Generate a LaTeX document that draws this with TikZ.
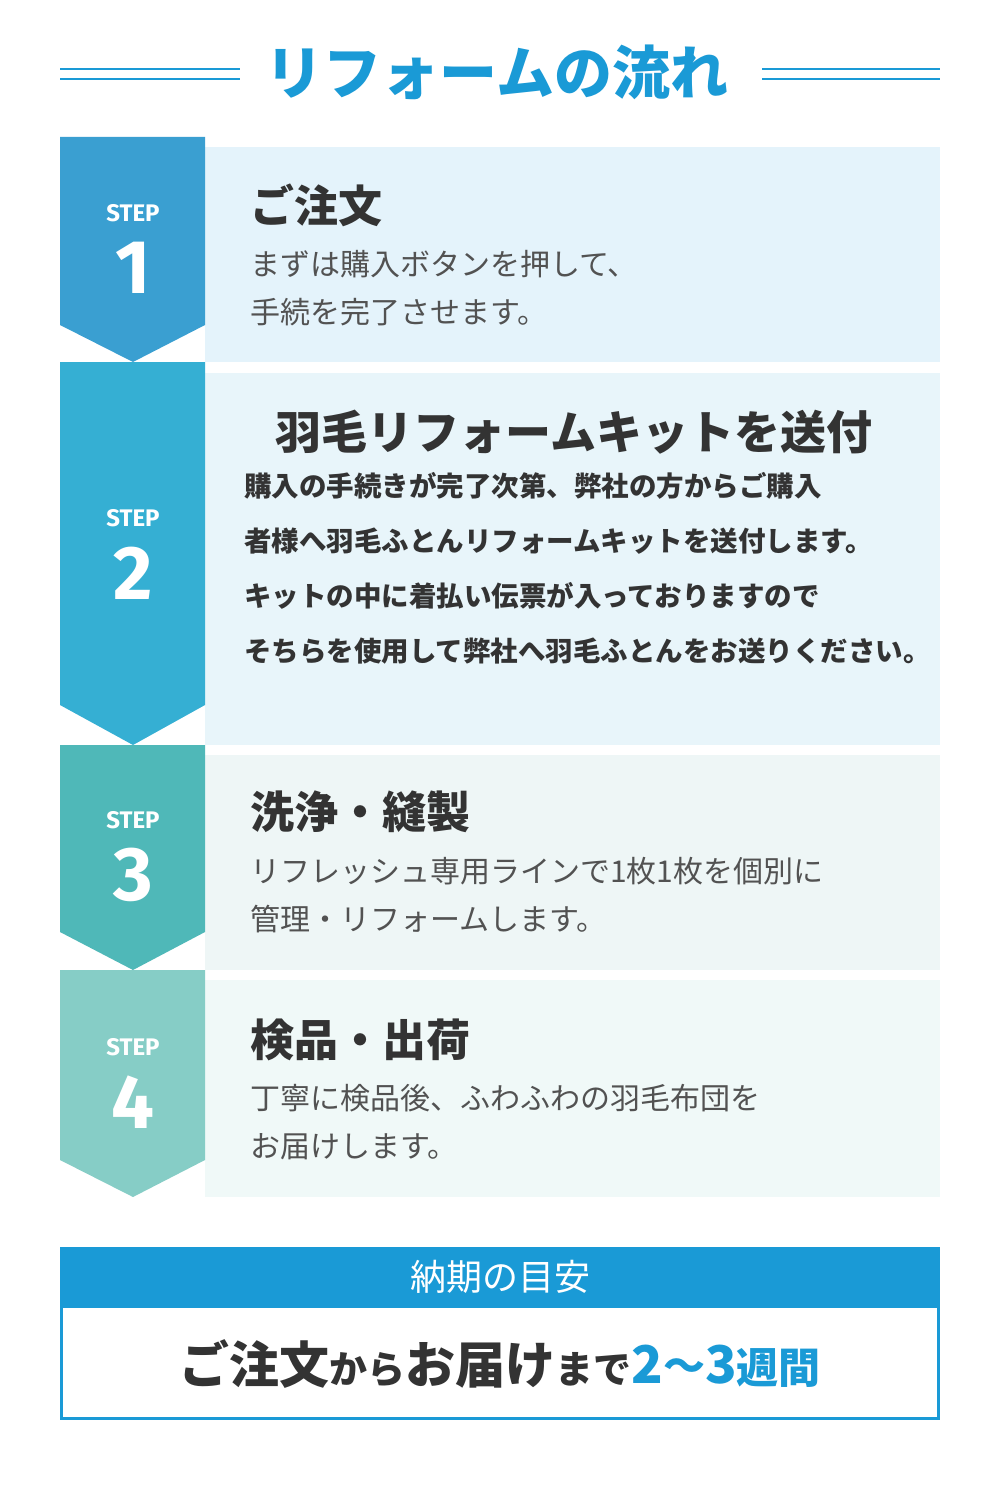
\documentclass[tikz,border=0pt]{standalone}
\usepackage{fontspec}
\setmainfont{Noto Sans CJK JP}
\newfontfamily\lat{Fira Sans}
\definecolor{tblue}{HTML}{1A9AD6}
\definecolor{txt}{HTML}{333333}
\definecolor{sa}{HTML}{3A9FD1}\definecolor{sb}{HTML}{35AFD3}
\definecolor{sc}{HTML}{4FB8B8}\definecolor{sd}{HTML}{86CDC6}
\definecolor{pa}{HTML}{E4F3FB}\definecolor{pb}{HTML}{E8F5FA}
\definecolor{pc}{HTML}{EEF6F6}\definecolor{pd}{HTML}{F0F9F8}
\tikzset{ttl/.style={anchor=west,font=\fontsize{44}{46}\selectfont\bfseries,text=txt,inner sep=0},
 body/.style={anchor=north west,font=\fontsize{30}{48}\selectfont,text=txt!85,align=left,inner sep=0},
 stp/.style={font=\lat\fontsize{24}{24}\selectfont\bfseries,text=white},
 num/.style={font=\lat\fontsize{76}{76}\selectfont\bfseries,text=white}}
\begin{document}
\begin{tikzpicture}[x=1pt,y=-1pt]
\useasboundingbox[fill=white] (0,0) rectangle (1000,1490);
\node[font=\fontsize{58}{60}\selectfont\bfseries,text=tblue] (title) at (497,72) {リフォームの流れ};
\foreach \a/\b in {60/240,762/940}{\draw[tblue,line width=1.5] (\a,69)--(\b,69) (\a,79)--(\b,79);}
\fill[pa] (205,147) rectangle (940,362);
\fill[pb] (205,373) rectangle (940,745);
\fill[pc] (205,755) rectangle (940,970);
\fill[pd] (205,980) rectangle (940,1197);
\fill[sa] (60,137)--(205,137)--(205,325)--(133,362)--(60,325)--cycle;
\fill[sb] (60,362)--(205,362)--(205,705)--(133,745)--(60,705)--cycle;
\fill[sc] (60,745)--(205,745)--(205,932)--(133,970)--(60,932)--cycle;
\fill[sd] (60,970)--(205,970)--(205,1160)--(133,1197)--(60,1160)--cycle;
\foreach \y/\n in {213/1,518/2,820/3,1047/4}{
 \node[stp] (s\n) at (133,\y) {STEP};
 \node[num] (n\n) at (133,\y+55) {\n};}
\node[ttl] (t1) at (250,205) {ご注文};
\node[body] (b1) at (250,250) {まずは購入ボタンを押して、\\手続を完了させます。};
\node[ttl,anchor=center,font=\fontsize{46}{48}\selectfont\bfseries] (t2) at (574,432) {羽毛リフォームキットを送付};
\node[anchor=north west,font=\fontsize{27.5}{55}\selectfont\bfseries,text=txt,align=left,inner sep=0] (b2) at (244,472)
 {購入の手続きが完了次第、弊社の方からご購入\\者様へ羽毛ふとんリフォームキットを送付します。\\キットの中に着払い伝票が入っておりますので\\そちらを使用して弊社へ羽毛ふとんをお送りください。};
\node[ttl] (t3) at (250,812) {洗浄・縫製};
\node[body] (b3) at (250,857) {リフレッシュ専用ラインで1枚1枚を個別に\\管理・リフォームします。};
\node[ttl] (t4) at (250,1040) {検品・出荷};
\node[body] (b4) at (250,1084) {丁寧に検品後、ふわふわの羽毛布団を\\お届けします。};
\fill[tblue] (60,1247) rectangle (940,1306);
\node[font=\fontsize{36}{38}\selectfont,text=white] (h) at (500,1277) {納期の目安};
\draw[tblue,line width=3] (61.5,1306) rectangle (938.5,1418);
\node[text=txt,font=\bfseries,inner sep=0] (m) at (500,1364)
 {\fontsize{50}{52}\selectfont ご注文\fontsize{38}{40}\selectfont から\fontsize{50}{52}\selectfont お届け\fontsize{38}{40}\selectfont まで\textcolor{tblue}{\fontsize{52}{52}\selectfont 2\raisebox{2pt}{\fontsize{42}{42}\selectfont \char"FF5E}3\fontsize{42}{42}\selectfont 週間}};
\end{tikzpicture}
\end{document}
